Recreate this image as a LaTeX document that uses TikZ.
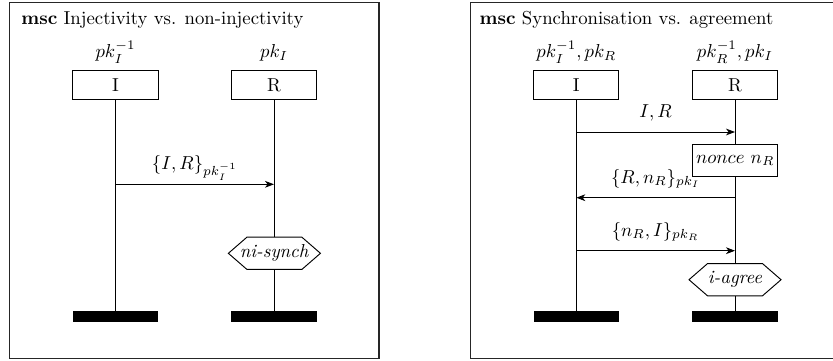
\documentclass[tikz,border=0pt]{standalone}
\usetikzlibrary{arrows.meta,backgrounds}
\newcommand\hexagonpath[1]{%
  \draw[hexline] (#1.west) -- ([xshift=9.9pt]#1.north west) -- ([xshift=-9.9pt]#1.north east)
    -- (#1.east) -- ([xshift=-9.9pt]#1.south east) -- ([xshift=9.9pt]#1.south west) -- cycle;}
\begin{document}
\begin{tikzpicture}[x=0.5333pt,y=-0.5333pt,
  frame/.style={draw=black!85,line width=0.65pt},
  inst/.style={draw,line width=0.5pt,fill=white,minimum width=45.4pt,minimum height=15.3pt,inner sep=0pt},
  endbar/.style={fill=black,minimum width=45.4pt,minimum height=6pt,inner sep=0pt},
  life/.style={line width=0.5pt},
  msg/.style={line width=0.5pt,-{Stealth[length=4.8pt,width=3.6pt,inset=1.4pt]}},
  cond/.style={minimum width=48.7pt,minimum height=16.8pt,inner sep=0pt},
  hexline/.style={draw,line width=0.5pt,fill=white,line join=miter},
  actbox/.style={draw,line width=0.5pt,fill=white,minimum width=45.4pt,minimum height=17.3pt,inner sep=0pt},
  lbl/.style={anchor=base,yshift=7.8pt,inner sep=0pt},
  ttl/.style={anchor=base west,inner sep=0pt},
  klbl/.style={anchor=base,inner sep=0pt}]
\useasboundingbox (0,0) rectangle (833,360);
\clip (0,0) rectangle (833,360);

% ---------- left frame ----------
\draw[frame] (9.3,2.5) rectangle (379,358.5);
\node[ttl] (t1) at (21,24) {\textbf{msc} Injectivity vs. non-injectivity};
\node[klbl] (k1) at (115.5,57.5) {$pk_I^{-1}$};
\node[klbl] (k2) at (274,57.5) {$pk_I$};
\node[inst] (I1) at (115.5,85) {I};
\node[inst] (R1) at (274,85) {R};
\node[endbar] (eI1) at (115.5,316.7) {};
\node[endbar] (eR1) at (274,316.7) {};
\node[cond] (c1) at (274.4,253.3) {\textit{ni-synch}};
\begin{pgfonlayer}{background}
\draw[life] (I1.south) -- (eI1.north);
\draw[life] (R1.south) -- (eR1.north);
\hexagonpath{c1}
\end{pgfonlayer}
\coordinate (y1) at (0,184.3);
\draw[msg] (I1 |- y1) -- node[lbl,midway] {$\{I,R\}_{pk_I^{-1}}$} (R1 |- y1);

% ---------- right frame ----------
\draw[frame] (470.7,2.5) rectangle (845,358.5);
\node[ttl] (t2) at (479.3,24) {\textbf{msc} Synchronisation vs. agreement};
\node[klbl] (k3) at (576.3,57.5) {$pk_I^{-1},pk_R$};
\node[klbl] (k4) at (735,57.5) {$pk_R^{-1},pk_I$};
\node[inst] (I2) at (576.3,85) {I};
\node[inst] (R2) at (735,85) {R};
\node[endbar] (eI2) at (576.3,316.7) {};
\node[endbar] (eR2) at (735,316.7) {};
\node[actbox] (n2) at (735.2,160.5) {$nonce~n_R$};
\node[cond] (c2) at (735,279.7) {\textit{i-agree}};
\begin{pgfonlayer}{background}
\draw[life] (I2.south) -- (eI2.north);
\draw[life] (R2.south) -- (eR2.north);
\hexagonpath{c2}
\end{pgfonlayer}
\coordinate (y2) at (0,132);
\coordinate (y3) at (0,197.7);
\coordinate (y4) at (0,250.7);
\draw[msg] (I2 |- y2) -- node[lbl,midway] {$I,R$} (R2 |- y2);
\draw[msg] (R2 |- y3) -- node[lbl,midway] {$\{R,n_R\}_{pk_I}$} (I2 |- y3);
\draw[msg] (I2 |- y4) -- node[lbl,midway] {$\{n_R,I\}_{pk_R}$} (R2 |- y4);
\end{tikzpicture}
\end{document}
